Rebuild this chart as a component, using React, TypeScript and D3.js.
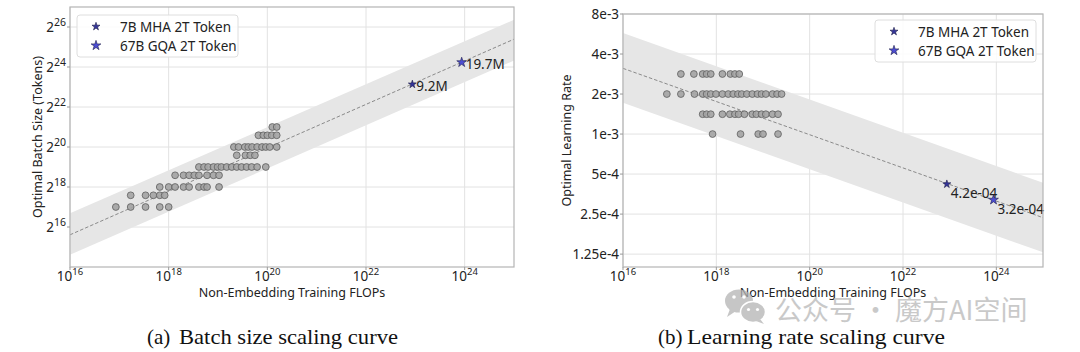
import React from "react";
import * as d3 from "d3";

// ---------- data ----------
const batchSizeLevels = [131072, 196608, 262144, 393216, 524288, 786432, 1048576, 1572864, 2097152];
const batchSizeFlops = [
  [8.5e16, 1.7e17, 3.4e17, 6.6e17, 1.0e18],
  [1.7e17, 3.4e17, 4.9e17, 6.6e17, 8.3e17],
  [6.6e17, 1.0e18, 1.35e18, 2.0e18, 2.6e18, 4.1e18, 5.2e18, 6.0e18, 1.05e19],
  [1.35e18, 2.0e18, 2.6e18, 3.3e18, 4.1e18, 6.0e18, 8.1e18, 1.05e19],
  [4.1e18, 5.2e18, 6.3e18, 8.1e18, 9.8e18, 1.17e19, 1.5e19, 1.9e19, 2.4e19, 3.0e19, 3.8e19, 4.8e19, 6.2e19, 9.3e19],
  [2.4e19, 3.6e19, 4.5e19, 5.6e19],
  [2.1e19, 2.6e19, 3.5e19, 4.1e19, 4.9e19, 6.2e19, 7.8e19, 9.3e19, 1.12e20, 1.55e20],
  [6.6e19, 8.3e19, 1.0e20, 1.23e20, 1.55e20],
  [1.26e20, 1.55e20],
];
const lrLevels = [2.83e-3, 2e-3, 1.41e-3, 1e-3];
const lrFlops = [
  [1.74e17, 3.3e17, 5.1e17, 6.2e17, 7.6e17, 1.35e18, 2.0e18, 2.5e18, 3.1e18],
  [8.7e16, 1.74e17, 3.4e17, 5.1e17, 6.2e17, 7.6e17, 9.8e17, 1.35e18, 1.8e18, 2.3e18, 2.9e18, 3.5e18, 4.5e18, 5.9e18, 7.6e18, 9.3e18, 1.15e19, 1.6e19, 2.0e19, 2.5e19],
  [5.1e17, 6.2e17, 7.6e17, 1.35e18, 1.95e18, 2.5e18, 3.0e18, 4.0e18, 5.9e18, 7.2e18, 9.3e18, 1.15e19, 1.6e19, 2.1e19],
  [8.3e17, 3.3e18, 7.9e18, 1.0e19, 2.1e19],
];
const modelNames = ["7B MHA 2T Token", "67B GQA 2T Token"];
const modelFlops = [8.7e22, 8.7e23];
const modelBatch = [9.2e6, 19.7e6];
const modelBatchLabels = ["9.2M", "19.7M"];
const modelLR = [4.2e-4, 3.2e-4];
const modelLRLabels = ["4.2e-04", "3.2e-04"];
const fitFlops = [1e16, 1e25];
const batchFit = [5.0e4, 4.4e7];
const batchBandUpper = [1.06e5, 8.6e7];
const batchBandLower = [2.5e4, 2.1e7];
const lrFit = [3.12e-3, 2.35e-4];
const lrBandUpper = [5.75e-3, 4.3e-4];
const lrBandLower = [1.72e-3, 1.29e-4];
const xTickExps = [16, 18, 20, 22, 24];
const batchTickExps = [16, 18, 20, 22, 24, 26];
const lrTickValues = [8e-3, 4e-3, 2e-3, 1e-3, 5e-4, 2.5e-4, 1.25e-4];
const lrTickLabels = ["8e-3", "4e-3", "2e-3", "1e-3", "5e-4", "2.5e-4", "1.25e-4"];

// ---------- styles ----------
const SANS = "'Noto Sans', 'Open Sans', sans-serif";
const SERIF = "'Liberation Serif', serif";
const GRID = "#e2e2e2";
const SPINE = "#b4b4b4";
const BAND = "#e6e6e6";
const PT_FILL = "#a3a3a3";
const PT_STROKE = "#5e5e5e";
const STAR_FILL = ["#34349a", "#4d4dd2"];
const STAR_SIZE = [20, 30];

const star = (s: number) => d3.symbol().type(d3.symbolStar).size(s)() as string;

type PanelProps = {
  x: d3.ScaleLogarithmic<number, number>;
  y: d3.ScaleLogarithmic<number, number>;
  levels: number[];
  flops: number[][];
  fit: number[];
  upper: number[];
  lower: number[];
  modelY: number[];
  modelLabels: string[];
  labelDy: number;
  yTicks: { v: number; node: React.ReactNode }[];
  yTitle: string;
  yTitleX: number;
  legendX: number;
  legendY: number;
  clipId: string;
};

function Panel(p: PanelProps) {
  const [x0, x1] = p.x.range();
  const [yb, yt] = p.y.range();
  const band = d3
    .area<number>()
    .x((d) => p.x(d))
    .y0((_, i) => p.y(p.lower[i]))
    .y1((_, i) => p.y(p.upper[i]));
  const line = d3
    .line<number>()
    .x((d) => p.x(d))
    .y((_, i) => p.y(p.fit[i]));
  const pts: [number, number][] = [];
  p.levels.forEach((lv, i) => p.flops[i].forEach((f) => pts.push([f, lv])));
  const xMid = (x0 + x1) / 2;
  return (
    <g>
      <defs>
        <clipPath id={p.clipId}>
          <rect x={x0} y={yt} width={x1 - x0} height={yb - yt} />
        </clipPath>
      </defs>
      {xTickExps.map((e) => (
        <line key={"gx" + e} x1={p.x(10 ** e)} x2={p.x(10 ** e)} y1={yt} y2={yb} stroke={GRID} strokeWidth={1} />
      ))}
      {p.yTicks.map((t, i) => (
        <line key={"gy" + i} x1={x0} x2={x1} y1={p.y(t.v)} y2={p.y(t.v)} stroke={GRID} strokeWidth={1} />
      ))}
      <g clipPath={`url(#${p.clipId})`}>
        <path d={band(fitFlops) as string} fill={BAND} />
        <path d={line(fitFlops) as string} fill="none" stroke="#8a8a8a" strokeWidth={1} strokeDasharray="3.5,2" />
        {pts.map(([f, v], i) => (
          <circle key={i} cx={p.x(f)} cy={p.y(v)} r={3.4} fill={PT_FILL} stroke={PT_STROKE} strokeWidth={0.8} fillOpacity={0.9} />
        ))}
      </g>
      {modelFlops.map((f, i) => (
        <g key={"m" + i}>
          <path d={star(STAR_SIZE[i])} transform={`translate(${p.x(f)},${p.y(p.modelY[i])})`} fill={STAR_FILL[i]} stroke="#1c1c4a" strokeWidth={0.6} />
          <text x={p.x(f) + 4} y={p.y(p.modelY[i]) + p.labelDy} fontFamily={SANS} fontSize={13.5} fill="#222" dominantBaseline="central">
            {p.modelLabels[i]}
          </text>
        </g>
      ))}
      <rect x={x0} y={yt} width={x1 - x0} height={yb - yt} fill="none" stroke={SPINE} strokeWidth={1.2} />
      {xTickExps.map((e) => (
        <g key={"tx" + e}>
          <line x1={p.x(10 ** e)} x2={p.x(10 ** e)} y1={yb} y2={yb + 3} stroke="#999" />
          <text x={p.x(10 ** e)} y={yb + 14} textAnchor="middle" fontFamily={SANS} fontSize={13.5} fill="#222">
            10<tspan fontSize={9.5} dy={-6}>{e}</tspan>
          </text>
        </g>
      ))}
      {p.yTicks.map((t, i) => (
        <g key={"ty" + i}>
          <line x1={x0 - 3} x2={x0} y1={p.y(t.v)} y2={p.y(t.v)} stroke="#999" />
          <text x={x0 - 4} y={p.y(t.v) + 5} textAnchor="end" fontFamily={SANS} fontSize={13.5} fill="#222">
            {t.node}
          </text>
        </g>
      ))}
      <text x={xMid} y={yb + 30} textAnchor="middle" fontFamily={SANS} fontSize={12.5} fill="#222">
        Non-Embedding Training FLOPs
      </text>
      <text
        transform={`translate(${p.yTitleX},${(yt + yb) / 2}) rotate(-90)`}
        textAnchor="middle"
        dominantBaseline="central"
        fontFamily={SANS}
        fontSize={12.5}
        fill="#222"
      >
        {p.yTitle}
      </text>
      <g transform={`translate(${p.legendX},${p.legendY})`}>
        <rect x={0} y={0} width={161} height={42} rx={3} fill="#fff" fillOpacity={0.85} stroke="#dedede" />
        {modelNames.map((n, i) => (
          <g key={"l" + i}>
            <path d={star(STAR_SIZE[i])} transform={`translate(19,${11.5 + i * 19})`} fill={STAR_FILL[i]} stroke="#1c1c4a" strokeWidth={0.6} />
            <text x={43} y={11.5 + i * 19} dominantBaseline="central" fontFamily={SANS} fontSize={13.5} fill="#222">
              {n}
            </text>
          </g>
        ))}
      </g>
    </g>
  );
}

export default function App() {
  const xL = d3.scaleLog().domain([1e16, 1e25]).range([70, 514]);
  const yL = d3.scaleLog().base(2).domain([2 ** 14, 2 ** 27]).range([267, 7]);
  const xR = d3.scaleLog().domain([1e16, 1e25]).range([623, 1043]);
  const yR = d3.scaleLog().base(2).domain([1e-4, 8e-3]).range([267, 14]);

  const batchTicks = batchTickExps.map((e) => ({
    v: 2 ** e,
    node: (
      <>
        2<tspan fontSize={10.5} dy={-6}>{e}</tspan>
      </>
    ),
  }));
  const lrTicks = lrTickValues.map((v, i) => ({ v, node: <>{lrTickLabels[i]}</> }));

  return (
    <svg width={1080} height={352} style={{ position: "absolute", left: 0, top: 0, background: "#fff" }}>
      <rect width={1080} height={352} fill="#fff" />
      <Panel
        x={xL}
        y={yL}
        levels={batchSizeLevels}
        flops={batchSizeFlops}
        fit={batchFit}
        upper={batchBandUpper}
        lower={batchBandLower}
        modelY={modelBatch}
        modelLabels={modelBatchLabels}
        labelDy={2}
        yTicks={batchTicks}
        yTitle="Optimal Batch Size (Tokens)"
        yTitleX={37}
        legendX={77}
        legendY={15}
        clipId="clipL"
      />
      <Panel
        x={xR}
        y={yR}
        levels={lrLevels}
        flops={lrFlops}
        fit={lrFit}
        upper={lrBandUpper}
        lower={lrBandLower}
        modelY={modelLR}
        modelLabels={modelLRLabels}
        labelDy={9}
        yTicks={lrTicks}
        yTitle="Optimal Learning Rate"
        yTitleX={566}
        legendX={875}
        legendY={20}
        clipId="clipR"
      />
      <text x={147} y={344} fontFamily={SERIF} fontSize={21} fill="#111">(a)</text>
      <text x={179} y={344} fontFamily={SERIF} fontSize={21} fill="#111" textLength={219} lengthAdjust="spacingAndGlyphs">
        Batch size scaling curve
      </text>
      <text x={658} y={344} fontFamily={SERIF} fontSize={21} fill="#111">(b)</text>
      <text x={687} y={344} fontFamily={SERIF} fontSize={21} fill="#111" textLength={258} lengthAdjust="spacingAndGlyphs">
        Learning rate scaling curve
      </text>
      <g opacity={0.75}>
        <ellipse cx={739} cy={301} rx={14} ry={11.5} fill="#b3b3b3" />
        <path d="M730,309 L727,317 L736,311 Z" fill="#b3b3b3" />
        <circle cx={734} cy={297} r={1.8} fill="#fff" />
        <circle cx={744} cy={297} r={1.8} fill="#fff" />
        <ellipse cx={753} cy={312} rx={12.5} ry={10.5} fill="#b3b3b3" stroke="#fff" strokeWidth={1.5} />
        <path d="M760,319 L764,324 L756,321 Z" fill="#b3b3b3" />
        <circle cx={748.5} cy={309.5} r={1.6} fill="#fff" />
        <circle cx={757.5} cy={309.5} r={1.6} fill="#fff" />
        <text x={775} y={320} fontFamily="'Noto Sans CJK SC', sans-serif" fontSize={27} fill="#b8b8b8">
          公众号 · 魔方AI空间
        </text>
      </g>
    </svg>
  );
}
